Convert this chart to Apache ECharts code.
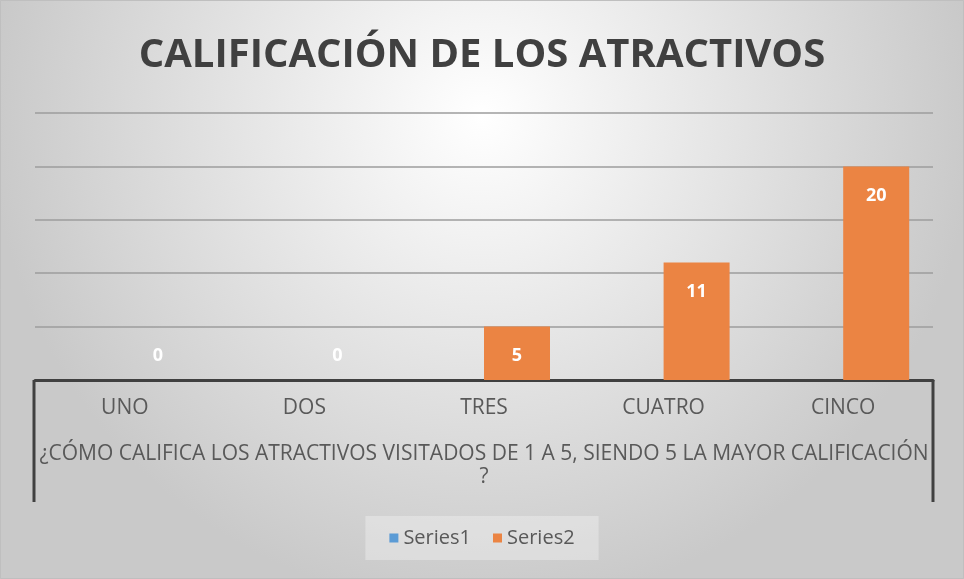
<!DOCTYPE html>
<html>
<head>
<meta charset="utf-8">
<script src="https://cdn.jsdelivr.net/npm/echarts@6/dist/echarts.min.js"></script>
<style>
  html, body { margin: 0; padding: 0; }
  #chart { width: 964px; height: 579px; }
</style>
</head>
<body>
<div id="chart"></div>
<script>
// Ratings of the visited attractions (1 to 5)
const categories = ['UNO', 'DOS', 'TRES', 'CUATRO', 'CINCO'];
const series1Values = [null, null, null, null, null];
const series2Values = [0, 0, 5, 11, 20];
const seriesNames = ['Series1', 'Series2'];
const titleText = 'CALIFICACIÓN DE LOS ATRACTIVOS';
const axisTitle = '¿CÓMO CALIFICA LOS ATRACTIVOS VISITADOS DE 1 A 5, SIENDO 5 LA MAYOR CALIFICACIÓN\n?';

const FONT = 'Open Sans, Noto Sans, sans-serif';
const GRID = { left: 35, right: 31, top: 113, bottom: 199 };

const chart = echarts.init(document.getElementById('chart'));
const W = chart.getWidth(), H = chart.getHeight();
const axisY = H - GRID.bottom;

// value labels: inside the top of each bar; zero bars get their label just above the axis
const s2Data = series2Values.map(v => v === 0
  ? { value: v, label: { position: 'insideBottom', distance: 15 } }
  : v);

const legendText = { fontFamily: FONT, fontSize: 20, color: '#595959' };

chart.setOption({
  backgroundColor: {
    type: 'radial', x: 0.5, y: 0.2, r: 0.85,
    colorStops: [
      { offset: 0, color: '#ffffff' },
      { offset: 1, color: '#c9c9c9' }
    ]
  },
  title: {
    text: titleText,
    left: 'center',
    top: 31,
    textStyle: { fontFamily: FONT, fontWeight: 'bold', fontSize: 40, color: '#404040' }
  },
  legend: {
    bottom: 19,
    left: 'center',
    icon: 'rect',
    itemWidth: 9,
    itemHeight: 9,
    itemGap: 22,
    padding: [12, 24],
    backgroundColor: 'rgba(255,255,255,0.3)',
    data: seriesNames.map(n => ({ name: n, textStyle: legendText })),
    textStyle: legendText
  },
  grid: GRID,
  xAxis: {
    type: 'category',
    data: categories,
    axisLine: { lineStyle: { color: '#404040', width: 3 } },
    axisTick: { show: false },
    axisLabel: { fontFamily: FONT, fontSize: 21, color: '#595959', margin: 18 },
    name: axisTitle,
    nameLocation: 'middle',
    nameGap: 63,
    nameTextStyle: { fontFamily: FONT, fontSize: 21, color: '#595959', lineHeight: 23 }
  },
  yAxis: {
    type: 'value',
    min: 0,
    max: 25,
    interval: 5,
    axisLabel: { show: false },
    axisLine: { show: false },
    axisTick: { show: false },
    splitLine: { lineStyle: { color: '#9c9c9c', width: 1.5 } }
  },
  series: [
    {
      name: seriesNames[0],
      type: 'bar',
      data: series1Values,
      barWidth: 66,
      barGap: '0%',
      itemStyle: { color: '#5b9bd5' }
    },
    {
      name: seriesNames[1],
      type: 'bar',
      data: s2Data,
      barWidth: 66,
      barGap: '0%',
      itemStyle: { color: '#eb8443' },
      label: {
        show: true,
        position: 'insideTop',
        distance: 20,
        fontFamily: FONT,
        fontWeight: 'bold',
        fontSize: 18,
        color: '#ffffff'
      }
    }
  ],
  graphic: [
    // side walls of the category band
    { type: 'line', shape: { x1: GRID.left - 1, y1: axisY, x2: GRID.left - 1, y2: axisY + 122 },
      style: { stroke: '#404040', lineWidth: 3 }, z: 10 },
    { type: 'line', shape: { x1: W - GRID.right, y1: axisY, x2: W - GRID.right, y2: axisY + 122 },
      style: { stroke: '#404040', lineWidth: 3 }, z: 10 },
    // outer frame
    { type: 'rect', shape: { x: 0.5, y: 0.5, width: W - 1, height: H - 1 },
      style: { fill: 'none', stroke: '#bfbfbf', lineWidth: 1 }, z: 10 }
  ]
});
</script>
</body>
</html>
